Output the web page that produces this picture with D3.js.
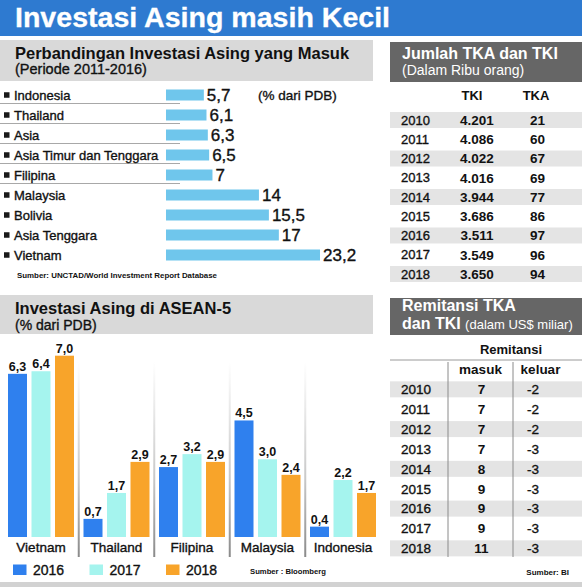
<!DOCTYPE html>
<html>
<head>
<meta charset="utf-8">
<script src="https://cdn.jsdelivr.net/npm/d3@7"></script>
<style>
  html, body { margin: 0; padding: 0; background: #fff; }
  svg { display: block; font-family: "Liberation Sans", Arial, Helvetica, sans-serif; }
  .med { stroke: #111; stroke-width: 0.35px; }
  .medw { stroke: #fff; stroke-width: 0.3px; }
</style>
</head>
<body>
<svg id="chart" width="582" height="587"></svg>
<script>
// ---------- DATA ----------
const mainTitle = "Investasi Asing masih Kecil";

const topCategories = ["Indonesia", "Thailand", "Asia", "Asia Timur dan Tenggara", "Filipina", "Malaysia", "Bolivia", "Asia Tenggara", "Vietnam"];
const topValues = [5.7, 6.1, 6.3, 6.5, 7, 14, 15.5, 17, 23.2];

const aseanCountries = ["Vietnam", "Thailand", "Filipina", "Malaysia", "Indonesia"];
const aseanYears = ["2016", "2017", "2018"];
const aseanValues2016 = [6.3, 0.7, 2.7, 4.5, 0.4];
const aseanValues2017 = [6.4, 1.7, 3.2, 3.0, 2.2];
const aseanValues2018 = [7.0, 2.9, 2.9, 2.4, 1.7];

const tableYears = ["2010", "2011", "2012", "2013", "2014", "2015", "2016", "2017", "2018"];
const tkiValues = [4201, 4086, 4022, 4016, 3944, 3686, 3511, 3549, 3650];
const tkaValues = [21, 60, 67, 69, 77, 86, 97, 96, 94];
const remitMasuk = [7, 7, 7, 7, 8, 9, 9, 9, 11];
const remitKeluar = [-2, -2, -2, -3, -3, -3, -3, -3, -3];

// ---------- STYLE ----------
const C = {
  titleBlue: "#2e7ad0",
  lightHead: "#d9d9d9",
  darkHead: "#666666",
  band: "#e4e4e4",
  topBar: "#6fc6ec",
  y2016: "#2f80ee",
  y2017: "#a5f4ee",
  y2018: "#f8a42a",
  text: "#111"
};
const yearColors = d3.scaleOrdinal(aseanYears, [C.y2016, C.y2017, C.y2018]);

const idComma = v => String(v).replace(".", ",");
const idOneDec = v => v.toFixed(1).replace(".", ",");
const idThousands = v => d3.format(",")(v).replace(/,/g, ".");

const svg = d3.select("#chart");
const defs = svg.append("defs");
const grad = defs.append("linearGradient").attr("id", "sepGrad")
  .attr("x1", 0).attr("y1", 0).attr("x2", 0).attr("y2", 1);
grad.append("stop").attr("offset", "0%").attr("stop-color", "#ffffff");
grad.append("stop").attr("offset", "60%").attr("stop-color", "#c8c8c8");
grad.append("stop").attr("offset", "100%").attr("stop-color", "#8a8a8a");

// ---------- TITLE BAR ----------
svg.append("rect").attr("x", 0).attr("y", 0).attr("width", 582).attr("height", 36).attr("fill", C.titleBlue);
svg.append("text").attr("x", 15).attr("y", 27).attr("fill", "#fff").attr("class", "medw")
  .attr("font-size", 27).attr("font-weight", "bold")
  .attr("textLength", 375).attr("lengthAdjust", "spacingAndGlyphs")
  .text(mainTitle);

// bottom strip
svg.append("rect").attr("x", 0).attr("y", 582).attr("width", 582).attr("height", 5).attr("fill", "#d2d2d2");

// ---------- TOP LEFT: horizontal bars ----------
svg.append("rect").attr("x", 0).attr("y", 40).attr("width", 373).attr("height", 41).attr("fill", C.lightHead);
svg.append("text").attr("x", 15).attr("y", 58.5).attr("font-size", 16.5).attr("font-weight", "bold").attr("fill", C.text)
  .text("Perbandingan Investasi Asing yang Masuk");
svg.append("text").attr("x", 15).attr("y", 74).attr("font-size", 14.5).attr("fill", C.text).attr("class", "med")
  .text("(Periode 2011-2016)");

const yTop = d3.scaleBand().domain(topCategories).range([85, 265]).paddingInner(0.45).paddingOuter(0.225);
const xTop = d3.scaleLinear().domain([0, 23.2]).range([166, 320]);

const topG = svg.append("g");
topCategories.slice(0, 5).forEach((c, i) => {
  const yc = yTop(c) + yTop.bandwidth() / 2;
  topG.append("line").attr("x1", 0).attr("x2", 180)
    .attr("y1", yc + 8.5).attr("y2", yc + 8.5)
    .attr("stroke", "#a8a8a8").attr("stroke-width", 1);
});
const rows = topG.selectAll("g.row").data(topCategories).join("g").attr("class", "row");
rows.append("rect")
  .attr("x", 4).attr("width", 5.5).attr("height", 5.5)
  .attr("y", d => yTop(d) + yTop.bandwidth() / 2 - 2.75)
  .attr("fill", "#1a1a1a");
rows.append("text").attr("class", "med")
  .attr("x", 14).attr("y", d => yTop(d) + yTop.bandwidth() / 2).attr("dy", "0.36em")
  .attr("font-size", 13).attr("fill", C.text)
  .text(d => d);
rows.append("rect")
  .attr("x", xTop(0)).attr("y", d => yTop(d))
  .attr("height", yTop.bandwidth())
  .attr("width", (d, i) => xTop(topValues[i]) - xTop(0))
  .attr("fill", C.topBar);
rows.append("text").attr("class", "med")
  .attr("x", (d, i) => xTop(topValues[i]) + 3)
  .attr("y", d => yTop(d) + yTop.bandwidth() / 2).attr("dy", "0.36em")
  .attr("font-size", 17).attr("fill", C.text)
  .text((d, i) => idComma(topValues[i]));
svg.append("text").attr("class", "med").attr("x", 258).attr("y", yTop(topCategories[0]) + yTop.bandwidth() / 2).attr("dy", "0.36em")
  .attr("font-size", 13.5).attr("fill", C.text).text("(% dari PDB)");
svg.append("text").attr("x", 17).attr("y", 278).attr("font-size", 8).attr("font-weight", "bold").attr("fill", C.text)
  .attr("textLength", 200).attr("lengthAdjust", "spacingAndGlyphs")
  .text("Sumber: UNCTAD/World Investment Report Database");

// ---------- BOTTOM LEFT: grouped bars ----------
svg.append("rect").attr("x", 0).attr("y", 295).attr("width", 373).attr("height", 39).attr("fill", C.lightHead);
svg.append("text").attr("x", 15).attr("y", 314).attr("font-size", 16.5).attr("font-weight", "bold").attr("fill", C.text)
  .text("Investasi Asing di ASEAN-5");
svg.append("text").attr("class", "med").attr("x", 15).attr("y", 329.5).attr("font-size", 14).attr("fill", C.text)
  .text("(% dari PDB)");

const x0 = d3.scaleBand().domain(aseanCountries).range([3.25, 380.75]).paddingInner(0.1258).paddingOuter(0.0629);
const x1 = d3.scaleBand().domain(aseanYears).range([0, x0.bandwidth()]).paddingInner(0.1915).paddingOuter(0);
const yB = d3.scaleLinear().domain([0, 7]).range([537, 355.7]);
const seriesByYear = { "2016": aseanValues2016, "2017": aseanValues2017, "2018": aseanValues2018 };

aseanCountries.slice(1).forEach(c => {
  const sx = x0(c) - (x0.step() - x0.bandwidth()) / 2;
  svg.append("rect").attr("x", sx - 1).attr("y", 362).attr("width", 2).attr("height", 195).attr("fill", "url(#sepGrad)");
});

const groups = svg.selectAll("g.grp").data(aseanCountries).join("g").attr("class", "grp")
  .attr("transform", d => `translate(${x0(d)},0)`);
groups.each(function (country, ci) {
  const g = d3.select(this);
  const data = aseanYears.map(y => ({ year: y, value: seriesByYear[y][ci] }));
  g.selectAll("rect").data(data).join("rect")
    .attr("x", d => x1(d.year)).attr("width", x1.bandwidth())
    .attr("y", d => yB(d.value)).attr("height", d => yB(0) - yB(d.value))
    .attr("fill", d => yearColors(d.year));
  g.selectAll("text.val").data(data).join("text").attr("class", "val")
    .attr("x", d => x1(d.year) + x1.bandwidth() / 2).attr("y", d => yB(d.value) - 3)
    .attr("text-anchor", "middle").attr("font-size", 12.5).attr("font-weight", "bold").attr("fill", C.text)
    .text(d => idOneDec(d.value));
  g.append("text").attr("class", "med").attr("x", x0.bandwidth() / 2).attr("y", 552)
    .attr("text-anchor", "middle").attr("font-size", 13.5).attr("fill", C.text)
    .text(country);
});

const legX = d3.scalePoint().domain(aseanYears).range([13, 166]);
const leg = svg.selectAll("g.leg").data(aseanYears).join("g").attr("class", "leg")
  .attr("transform", d => `translate(${legX(d)},0)`);
leg.append("rect").attr("x", 0).attr("y", 564.5).attr("width", 13.5).attr("height", 10.5).attr("fill", d => yearColors(d));
leg.append("text").attr("class", "med").attr("x", 20).attr("y", 574.5).attr("font-size", 14).attr("fill", C.text).text(d => d);
svg.append("text").attr("x", 250).attr("y", 574).attr("font-size", 8).attr("font-weight", "bold").attr("fill", C.text)
  .attr("textLength", 76).attr("lengthAdjust", "spacingAndGlyphs").text("Sumber : Bloomberg");

// ---------- TOP RIGHT TABLE ----------
svg.append("rect").attr("x", 390).attr("y", 42).attr("width", 192).attr("height", 40).attr("fill", C.darkHead);
svg.append("text").attr("x", 402).attr("y", 58.5).attr("font-size", 16).attr("font-weight", "bold").attr("fill", "#fff")
  .text("Jumlah TKA dan TKI");
svg.append("text").attr("x", 402).attr("y", 74.5).attr("font-size", 14).attr("fill", "#fff")
  .text("(Dalam Ribu orang)");
svg.append("text").attr("x", 472).attr("y", 100).attr("text-anchor", "middle").attr("font-size", 13).attr("font-weight", "bold").attr("fill", C.text).text("TKI");
svg.append("text").attr("x", 536).attr("y", 100).attr("text-anchor", "middle").attr("font-size", 13).attr("font-weight", "bold").attr("fill", C.text).text("TKA");

const yT1 = d3.scaleBand().domain(tableYears).range([110.4, 283.6]);
const t1 = svg.selectAll("g.t1").data(tableYears).join("g").attr("class", "t1")
  .attr("transform", d => `translate(0,${yT1(d) + yT1.bandwidth() / 2})`);
t1.filter((d, i) => i % 2 === 0).append("rect")
  .attr("x", 390).attr("y", -8).attr("width", 192).attr("height", 16).attr("fill", C.band);
t1.append("text").attr("class", "med").attr("x", 401).attr("dy", "0.36em").attr("font-size", 13).attr("fill", C.text).text(d => d);
t1.append("text").attr("x", 477).attr("dy", "0.36em").attr("text-anchor", "middle").attr("font-size", 13.5).attr("font-weight", "bold").attr("fill", C.text)
  .text((d, i) => idThousands(tkiValues[i]));
t1.append("text").attr("x", 537.5).attr("dy", "0.36em").attr("text-anchor", "middle").attr("font-size", 13.5).attr("font-weight", "bold").attr("fill", C.text)
  .text((d, i) => tkaValues[i]);

// ---------- BOTTOM RIGHT TABLE ----------
svg.append("rect").attr("x", 390).attr("y", 298).attr("width", 192).attr("height", 37).attr("fill", C.darkHead);
svg.append("text").attr("x", 402).attr("y", 311).attr("font-size", 16).attr("font-weight", "bold").attr("fill", "#fff")
  .text("Remitansi TKA");
const dt = svg.append("text").attr("x", 402).attr("y", 329).attr("fill", "#fff");
dt.append("tspan").attr("font-size", 16).attr("font-weight", "bold").text("dan TKI ");
dt.append("tspan").attr("font-size", 13).text("(dalam US$ miliar)");

svg.append("text").attr("x", 511).attr("y", 353.5).attr("text-anchor", "middle").attr("font-size", 13).attr("font-weight", "bold").attr("fill", C.text).text("Remitansi");
svg.append("line").attr("x1", 390).attr("x2", 582).attr("y1", 360).attr("y2", 360).attr("stroke", "#9a9a9a").attr("stroke-width", 1);
svg.append("text").attr("x", 480.5).attr("y", 373.5).attr("text-anchor", "middle").attr("font-size", 13.5).attr("font-weight", "bold").attr("fill", C.text).text("masuk");
svg.append("text").attr("x", 540.5).attr("y", 373.5).attr("text-anchor", "middle").attr("font-size", 13.5).attr("font-weight", "bold").attr("fill", C.text).text("keluar");

const yT2 = d3.scaleBand().domain(tableYears).range([379.4, 558.3]);
const t2 = svg.selectAll("g.t2").data(tableYears).join("g").attr("class", "t2")
  .attr("transform", d => `translate(0,${yT2(d) + yT2.bandwidth() / 2})`);
t2.filter((d, i) => i % 2 === 0).append("rect")
  .attr("x", 390).attr("y", -8).attr("width", 192).attr("height", 16).attr("fill", C.band);
t2.append("text").attr("class", "med").attr("x", 401).attr("dy", "0.36em").attr("font-size", 13.5).attr("fill", C.text).text(d => d);
t2.append("text").attr("x", 481.5).attr("dy", "0.36em").attr("text-anchor", "middle").attr("font-size", 13.5).attr("font-weight", "bold").attr("fill", C.text)
  .text((d, i) => remitMasuk[i]);
t2.append("text").attr("class", "med").attr("x", 533).attr("dy", "0.36em").attr("text-anchor", "middle").attr("font-size", 13.5).attr("fill", C.text)
  .text((d, i) => remitKeluar[i]);
[448, 513].forEach(vx => {
  svg.append("line").attr("x1", vx).attr("x2", vx).attr("y1", 362).attr("y2", 557)
    .attr("stroke", "#8a8a8a").attr("stroke-width", 1);
});
svg.append("text").attr("x", 569).attr("y", 575).attr("text-anchor", "end").attr("font-size", 8).attr("font-weight", "bold").attr("fill", C.text)
  .text("Sumber: BI");
</script>
</body>
</html>
